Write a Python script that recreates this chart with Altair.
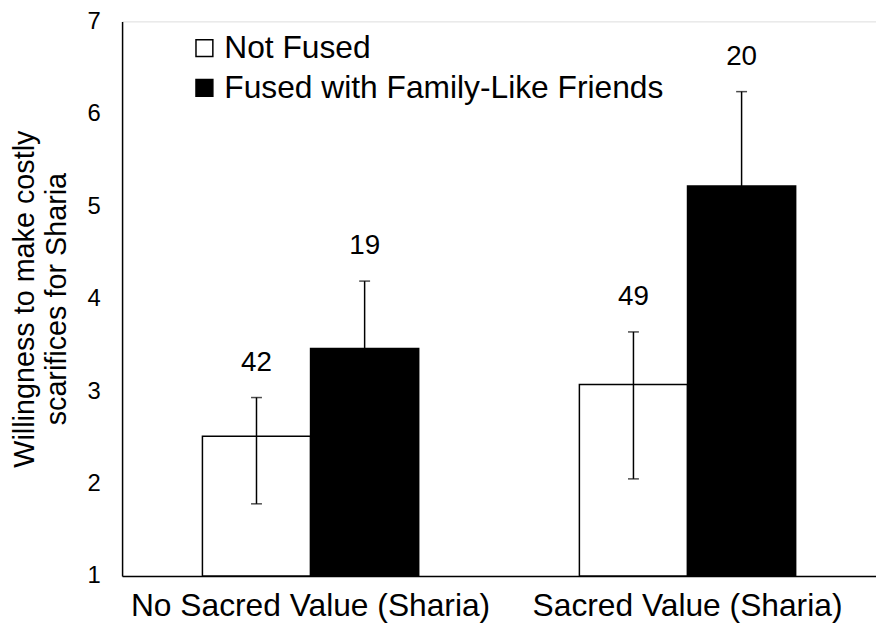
import altair as alt
import pandas as pd

conditions = ["No Sacred Value (Sharia)", "Sacred Value (Sharia)"]
groups = ["Not Fused", "Fused with Family-Like Friends"]
mean_not_fused = [2.51, 3.07]
mean_fused = [3.46, 5.22]
upper_not_fused = [2.93, 3.64]
upper_fused = [4.19, 6.24]
lower_not_fused = [1.78, 2.05]
lower_fused = [2.73, 4.20]
n_not_fused = [42, 49]
n_fused = [19, 20]
y_ticks = [1, 2, 3, 4, 5, 6, 7]
y_title = ["Willingness to make costly", "scarifices for Sharia"]

rows = []
for i, c in enumerate(conditions):
    rows.append(dict(condition=c, group=groups[0], mean=mean_not_fused[i],
                     lo=lower_not_fused[i], hi=upper_not_fused[i], n=n_not_fused[i]))
    rows.append(dict(condition=c, group=groups[1], mean=mean_fused[i],
                     lo=lower_fused[i], hi=upper_fused[i], n=n_fused[i]))
df = pd.DataFrame(rows)

FONT = "Liberation Sans"

x = alt.X("condition:N", sort=conditions,
          scale=alt.Scale(paddingInner=0, paddingOuter=0),
          axis=alt.Axis(title=None, labelAngle=0, ticks=False, domainColor="black",
                        domainWidth=1.5, labelFontSize=32, labelPadding=15,
                        labelColor="black", labelFont=FONT, labelLimit=600))
xo = alt.XOffset("group:N", sort=groups,
                 scale=alt.Scale(domain=groups, paddingOuter=0.743, paddingInner=0))
yscale = alt.Scale(domain=[1, 7], nice=False, zero=False)
yaxis = alt.Axis(values=y_ticks, ticks=False, grid=False, domainColor="black",
                 domainWidth=1.5, labelFontSize=24, labelPadding=22, labelColor="black",
                 labelFont=FONT, title=y_title, titleFont=FONT, titleFontSize=29,
                 titleFontWeight="normal", titleColor="black", titleLineHeight=32,
                 titlePadding=16)

base = alt.Chart(df)

bars = base.mark_bar(stroke="black", strokeWidth=1.5).encode(
    x=x, xOffset=xo,
    y=alt.Y("mean:Q", scale=yscale, axis=yaxis),
    y2=alt.datum(1),
    color=alt.Color("group:N", sort=groups,
                    scale=alt.Scale(domain=groups, range=["white", "black"]),
                    legend=alt.Legend(title=None, orient="none", legendX=67, legendY=11,
                                      padding=0,
                                      symbolType="square", symbolSize=289,
                                      symbolStrokeColor="black", symbolStrokeWidth=1.5,
                                      labelFontSize=32, labelFont=FONT, labelColor="black",
                                      rowPadding=8, labelOffset=4, labelLimit=600)),
)

rules = base.mark_rule(color="black", strokeWidth=1.5).encode(
    x=x, xOffset=xo,
    y=alt.Y("lo:Q", scale=yscale, axis=yaxis),
    y2="hi:Q",
)

cap_hi = base.mark_tick(color="black", thickness=1.5, size=11).encode(
    x=x, xOffset=xo, y=alt.Y("hi:Q", scale=yscale, axis=yaxis))
cap_lo = base.mark_tick(color="black", thickness=1.5, size=11).encode(
    x=x, xOffset=xo, y=alt.Y("lo:Q", scale=yscale, axis=yaxis))

labels = base.mark_text(dy=-35, fontSize=28, font=FONT, color="black").encode(
    x=x, xOffset=xo, y=alt.Y("hi:Q", scale=yscale, axis=yaxis), text="n:Q")

chart = alt.layer(bars, rules, cap_hi, cap_lo, labels).properties(
    width=760, height=559,
    autosize=alt.AutoSizeParams(type="none"),
    padding={"left": 115, "top": 11, "right": 0, "bottom": 50},
).configure_view(stroke=None).configure(background="white")

chart.save("out.html", embed_options={"renderer": "svg", "actions": False})
